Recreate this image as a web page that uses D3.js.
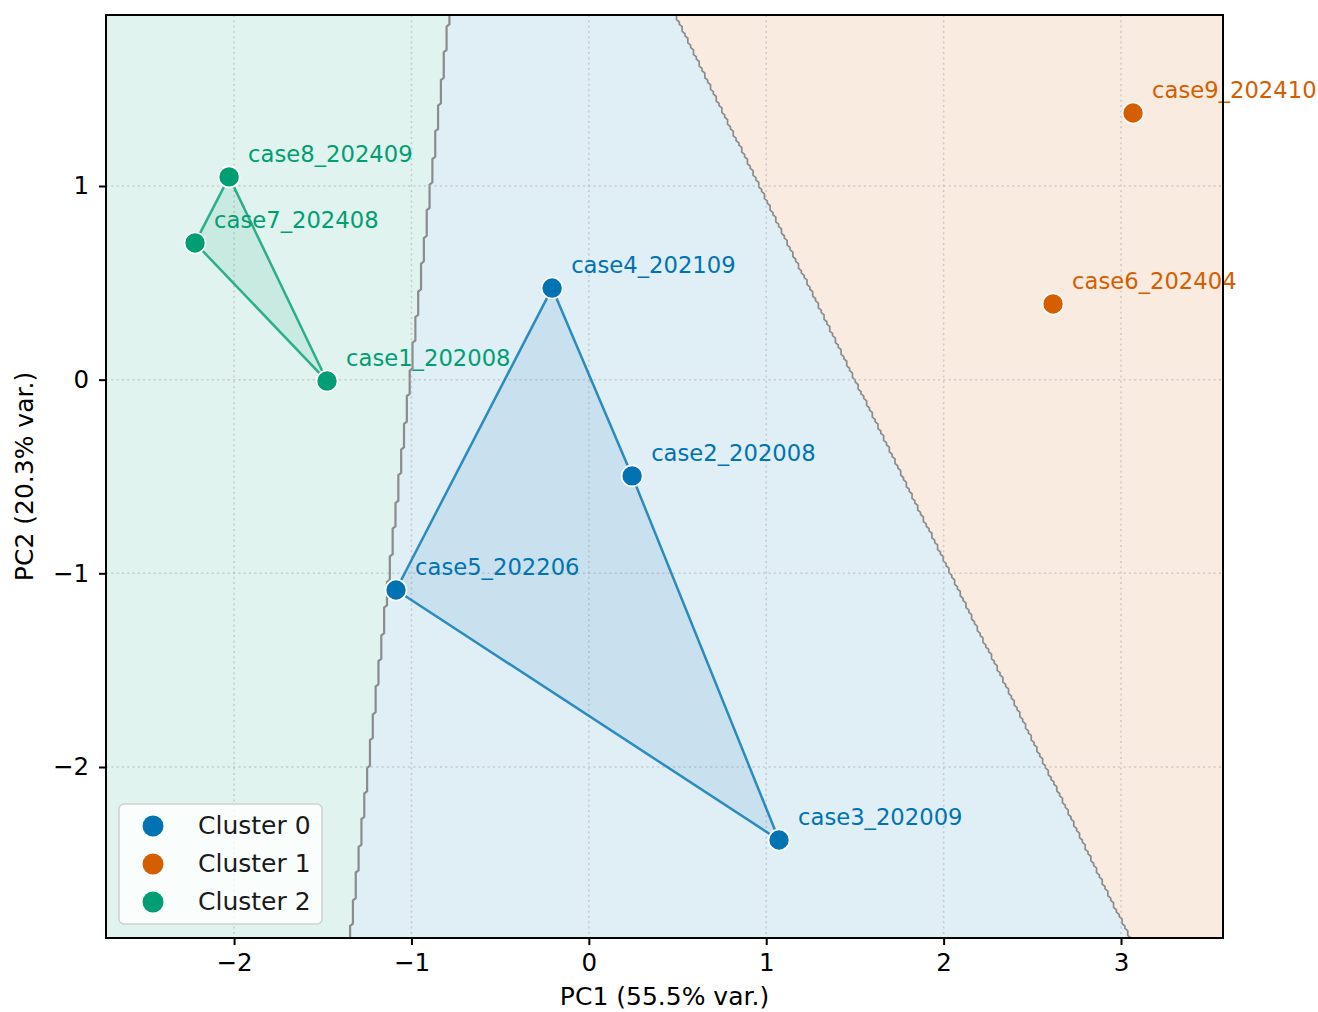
<!DOCTYPE html>
<html>
<head>
<meta charset="utf-8">
<script src="https://cdn.jsdelivr.net/npm/d3@7"></script>
<style>
  html, body { margin: 0; padding: 0; background: #ffffff; }
  svg { display: block; font-family: "DejaVu Sans", sans-serif; }
</style>
</head>
<body>
<svg id="chart" width="1318" height="1012"></svg>
<script>
// PCA scores for each case (PC1, PC2) and the KMeans cluster each one belongs to
const caseNames = ["case1_202008", "case2_202008", "case3_202009", "case4_202109", "case5_202206",
                   "case6_202404", "case7_202408", "case8_202409", "case9_202410"];
const pc1 = [-1.476, 0.244, 1.072, -0.207, -1.087, 2.617, -2.220, -2.028, 3.068];
const pc2 = [-0.007, -0.497, -2.377, 0.473, -1.086, 0.391, 0.706, 1.047, 1.377];
const clusterOf = [2, 0, 0, 0, 0, 1, 2, 2, 1];

const clusterLabels = ["Cluster 0", "Cluster 1", "Cluster 2"];
const clusterColors = ["#0173b2", "#d55e00", "#029e73"];

// Axis extents and ticks
const xDomain = [-2.722, 3.575];
const yDomain = [-2.883, 1.883];
const xTicks = [-2, -1, 0, 1, 2, 3];
const yTicks = [-2, -1, 0, 1];

// Decision boundaries of the clustering over the PCA plane (end points, in PC units)
const boundary2to0 = [[-0.788, 1.883], [-1.346, -2.883]];
const boundary0to1 = [[0.486, 1.883], [3.051, -2.883]];
// Resolution of the prediction mesh
const meshStepX = 0.016, meshStepY = 0.012;

const svg = d3.select("#chart");
const margin = { left: 106, right: 1223, top: 15, bottom: 938 };

const x = d3.scaleLinear().domain(xDomain).range([margin.left, margin.right]);
const y = d3.scaleLinear().domain(yDomain).range([margin.bottom, margin.top]);

const points = caseNames.map((name, i) => ({ name, x: pc1[i], y: pc2[i], c: clusterOf[i] }));

svg.append("defs").append("clipPath").attr("id", "plotClip")
  .append("rect")
  .attr("x", margin.left).attr("y", margin.top)
  .attr("width", margin.right - margin.left).attr("height", margin.bottom - margin.top);

const plot = svg.append("g").attr("clip-path", "url(#plotClip)");

// Boundary traced through the mesh: one vertex per mesh row, snapped to the
// nearest column, so the edge shows the small jogs of a gridded prediction
function meshEdge(seg) {
  const [[xa, ya], [xb, yb]] = seg;
  const xAt = yy => xa + (xb - xa) * (yy - ya) / (yb - ya);
  const snap = v => xDomain[0] + Math.round((v - xDomain[0]) / meshStepX) * meshStepX;
  const pts = [[snap(xAt(yDomain[1])), yDomain[1] + 0.05]];
  const nRows = Math.ceil((yDomain[1] - yDomain[0]) / meshStepY);
  for (let k = 0; k <= nRows; k++) {
    const yy = yDomain[1] - k * meshStepY;
    pts.push([snap(xAt(yy)), yy]);
  }
  pts.push([snap(xAt(yDomain[0])), yDomain[0] - 0.05]);
  return pts;
}

const edgeA = meshEdge(boundary2to0);
const edgeB = meshEdge(boundary0to1);

const padX = [xDomain[0] - 0.1, xDomain[1] + 0.1];
const padY = [yDomain[0] - 0.1, yDomain[1] + 0.1];
const regionGreen = [[padX[0], padY[1]], ...edgeA, [padX[0], padY[0]]];
const regionBlue = [...edgeA, ...edgeB.slice().reverse()];
const regionOrange = [...edgeB, [padX[1], padY[0]], [padX[1], padY[1]]];

const lineGen = d3.line().x(d => x(d[0])).y(d => y(d[1]));
const regions = [
  { pts: regionBlue, c: 0 },
  { pts: regionOrange, c: 1 },
  { pts: regionGreen, c: 2 }
];
plot.selectAll("path.region").data(regions).join("path")
  .attr("class", "region")
  .attr("d", d => lineGen(d.pts) + "Z")
  .attr("fill", d => clusterColors[d.c])
  .attr("fill-opacity", 0.12)
  .attr("stroke", "none");

// Boundary contour lines
plot.selectAll("path.edge").data([{ pts: edgeA, w: 2.2 }, { pts: edgeB, w: 1.7 }]).join("path")
  .attr("class", "edge")
  .attr("d", d => lineGen(d.pts))
  .attr("fill", "none")
  .attr("stroke", "#7a7a7a")
  .attr("stroke-width", d => d.w)
  .attr("stroke-opacity", 0.85);

// Dotted grid
const grid = svg.append("g");
grid.selectAll("line.gx").data(xTicks).join("line")
  .attr("x1", d => x(d)).attr("x2", d => x(d))
  .attr("y1", margin.top).attr("y2", margin.bottom)
  .attr("stroke", "#b0b0b0").attr("stroke-opacity", 0.6)
  .attr("stroke-width", 1.5).attr("stroke-dasharray", "2,3.3");
grid.selectAll("line.gy").data(yTicks).join("line")
  .attr("y1", d => y(d)).attr("y2", d => y(d))
  .attr("x1", margin.left).attr("x2", margin.right)
  .attr("stroke", "#b0b0b0").attr("stroke-opacity", 0.6)
  .attr("stroke-width", 1.5).attr("stroke-dasharray", "2,3.3");

// Convex hulls of each cluster
const hullLayer = svg.append("g");
clusterLabels.forEach((_, c) => {
  const members = points.filter(p => p.c === c).map(p => [x(p.x), y(p.y)]);
  if (members.length < 3) return;
  const hull = d3.polygonHull(members);
  hullLayer.append("path")
    .attr("d", "M" + hull.join("L") + "Z")
    .attr("fill", clusterColors[c]).attr("fill-opacity", 0.1)
    .attr("stroke", clusterColors[c]).attr("stroke-opacity", 0.8)
    .attr("stroke-width", 2.5).attr("stroke-linejoin", "round");
});

// Points
svg.append("g").selectAll("circle").data(points).join("circle")
  .attr("cx", d => x(d.x)).attr("cy", d => y(d.y))
  .attr("r", 10.5)
  .attr("fill", d => clusterColors[d.c])
  .attr("stroke", "#ffffff").attr("stroke-width", 1.6);

// Case labels
svg.append("g").selectAll("text").data(points).join("text")
  .attr("x", d => x(d.x) + 19).attr("y", d => y(d.y) - 15)
  .attr("fill", d => clusterColors[d.c])
  .attr("font-size", 22.7)
  .text(d => d.name);

// Axes
const fmt = d3.format("d");
const xAxis = svg.append("g").attr("transform", `translate(0,${margin.bottom})`)
  .call(d3.axisBottom(x).tickValues(xTicks).tickFormat(fmt).tickSize(7).tickPadding(9));
const yAxis = svg.append("g").attr("transform", `translate(${margin.left},0)`)
  .call(d3.axisLeft(y).tickValues(yTicks).tickFormat(fmt).tickSize(7).tickPadding(10));
[xAxis, yAxis].forEach(a => {
  a.select(".domain").remove();
  a.selectAll(".tick line").attr("stroke", "#000").attr("stroke-width", 2);
  a.selectAll(".tick text").attr("font-size", 24.5).attr("fill", "#000")
    .attr("font-family", "DejaVu Sans, sans-serif");
});

// Frame
svg.append("rect")
  .attr("x", margin.left).attr("y", margin.top)
  .attr("width", margin.right - margin.left).attr("height", margin.bottom - margin.top)
  .attr("fill", "none").attr("stroke", "#000").attr("stroke-width", 2);

// Axis titles
svg.append("text")
  .attr("x", (margin.left + margin.right) / 2).attr("y", 1005)
  .attr("text-anchor", "middle").attr("font-size", 25).attr("fill", "#000")
  .text("PC1 (55.5% var.)");
svg.append("text")
  .attr("transform", `translate(33,${(margin.top + margin.bottom) / 2}) rotate(-90)`)
  .attr("text-anchor", "middle").attr("font-size", 25).attr("fill", "#000")
  .text("PC2 (20.3% var.)");

// Legend
const legend = svg.append("g").attr("transform", "translate(119,804)");
legend.append("rect")
  .attr("width", 203).attr("height", 120).attr("rx", 5)
  .attr("fill", "#ffffff").attr("fill-opacity", 0.8)
  .attr("stroke", "#d0d0d0").attr("stroke-width", 1.5);
clusterLabels.forEach((lab, i) => {
  const row = legend.append("g").attr("transform", `translate(0,${22 + i * 38})`);
  row.append("circle").attr("cx", 34).attr("cy", 0).attr("r", 10.5)
    .attr("fill", clusterColors[i]);
  row.append("text").attr("x", 79).attr("y", 8)
    .attr("font-size", 25).attr("fill", "#1a1a1a").text(lab);
});
</script>
</body>
</html>
